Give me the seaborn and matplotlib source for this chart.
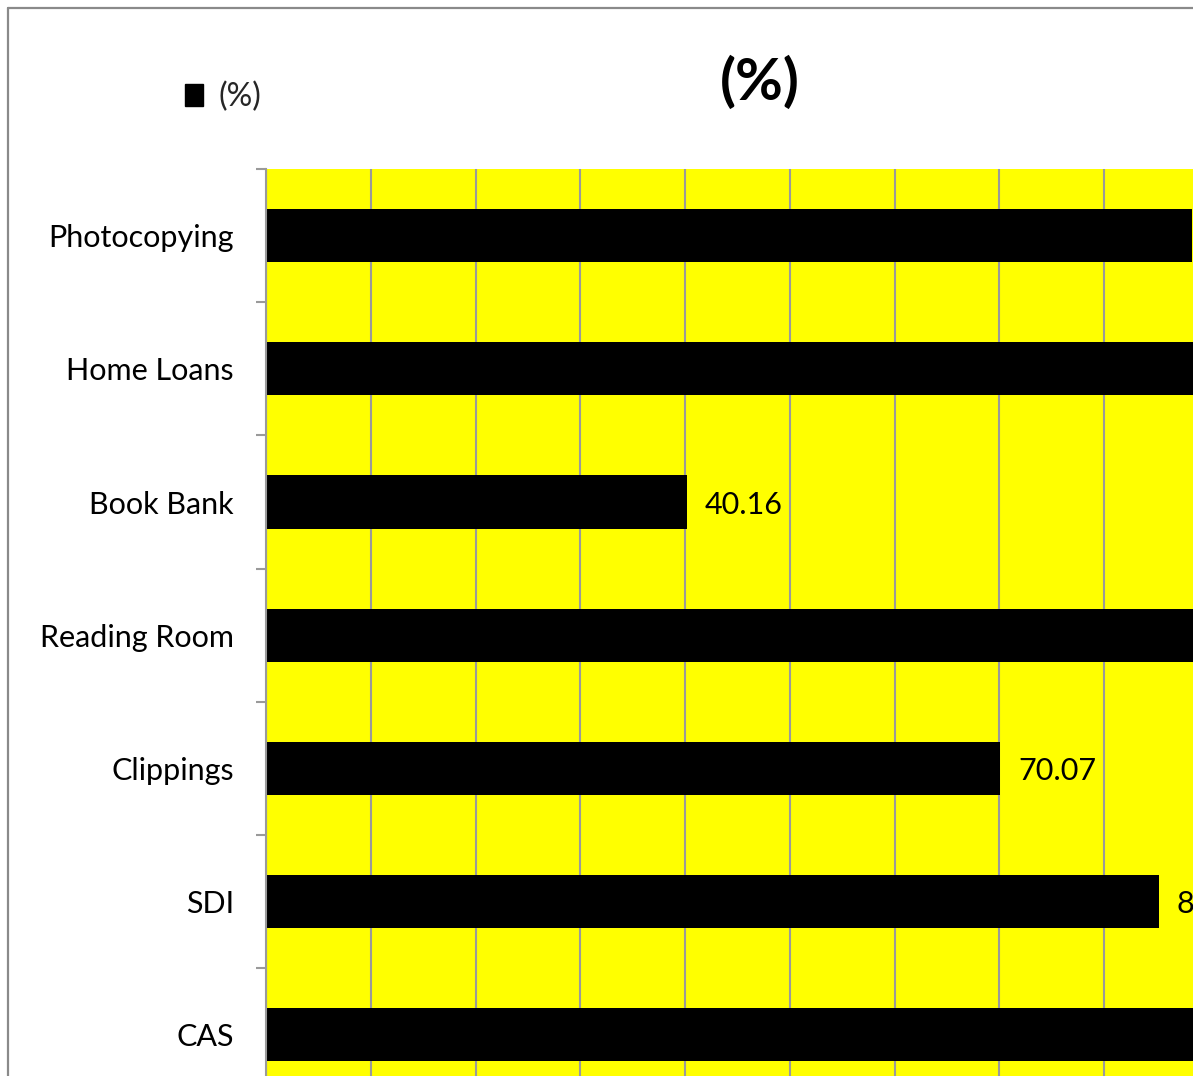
import matplotlib
matplotlib.use("Agg")
import matplotlib.pyplot as plt
from matplotlib.lines import Line2D
from matplotlib.ticker import MultipleLocator, FixedLocator
import seaborn as sns
import pandas as pd

# Library services and the share of users who use each (%)
services = ["Photocopying", "Home Loans", "Book Bank", "Reading Room",
            "Clippings", "SDI", "CAS"]
percent = [88.42, 94.62, 40.16, 97.31, 70.07, 85.21, 92.45]
series_name = "(%)"
chart_title = "(%)"

sns.set_theme(style="white")
plt.rcParams["font.family"] = ["Lato", "DejaVu Sans"]

W, H = 1193, 1076
fig = plt.figure(figsize=(W / 100, H / 100), dpi=100)
fig.patch.set_facecolor("white")

# Plot area (pixel geometry converted to figure fractions)
left_px, top_px = 266, 169
unit_px = 10.475          # pixels per percentage point
band_px = 133.2           # height of one category band
right_px = left_px + unit_px * 100
bottom_px = top_px + band_px * len(services)
ax = fig.add_axes([left_px / W, 1 - bottom_px / H,
                   (right_px - left_px) / W, (bottom_px - top_px) / H])

df = pd.DataFrame({"service": services, "percent": percent})
sns.barplot(data=df, y="service", x="percent", orient="h", color="black",
            width=0.4, saturation=1, linewidth=0, label=series_name,
            ax=ax, zorder=3)

ax.set_facecolor("#FFFF00")
ax.set_xlim(0, 100)
ax.set_ylim(len(services) - 0.5, -0.5)
ax.set_xlabel("")
ax.set_ylabel("")

grid_c = "#9a9a9a"
ax.xaxis.set_major_locator(MultipleLocator(10))
ax.grid(axis="x", color=grid_c, linewidth=1.5, zorder=1)
ax.grid(axis="y", visible=False)
ax.tick_params(axis="x", length=0, labelbottom=False)
for s in ["top", "right", "bottom"]:
    ax.spines[s].set_visible(False)
ax.spines["left"].set_color(grid_c)
ax.spines["left"].set_linewidth(1.5)
ax.spines["left"].set_zorder(4)

# Category labels, with small tick marks on band boundaries
ax.tick_params(axis="y", which="major", length=0, pad=23, labelsize=22,
               labelcolor="black")
ax.yaxis.set_minor_locator(FixedLocator([i - 0.5 for i in range(len(services) + 1)]))
ax.tick_params(axis="y", which="minor", length=7, width=1.5, color=grid_c,
               direction="out", left=True)

for c in ax.containers:
    texts = ax.bar_label(c, labels=[f"{v:.2f}" for v in c.datavalues],
                         padding=13, fontsize=22, color="black")
    for t in texts:
        t.set_va("center_baseline")

if ax.legend_:
    ax.legend_.remove()
handles = [plt.Rectangle((0, 0), 1, 1, color="black")]
fig.legend(handles, [series_name], loc="center left",
           bbox_to_anchor=(185 / W, 1 - 97 / H), frameon=False,
           fontsize=23, handlelength=0.56, handleheight=0.66,
           handletextpad=0.5, borderpad=0, borderaxespad=0)

fig.text(760 / W, 1 - 83 / H, chart_title, ha="center", va="center",
         fontsize=42, fontweight="bold", color="black")

# Chart frame (top and left edges)
frame_c = "#8a8a8a"
fig.add_artist(Line2D([8 / W, 1], [1 - 8 / H, 1 - 8 / H], color=frame_c,
                      linewidth=1.6, transform=fig.transFigure))
fig.add_artist(Line2D([8 / W, 8 / W], [1 - 8 / H, 0], color=frame_c,
                      linewidth=1.6, transform=fig.transFigure))

fig.savefig("out.png", dpi=100)
